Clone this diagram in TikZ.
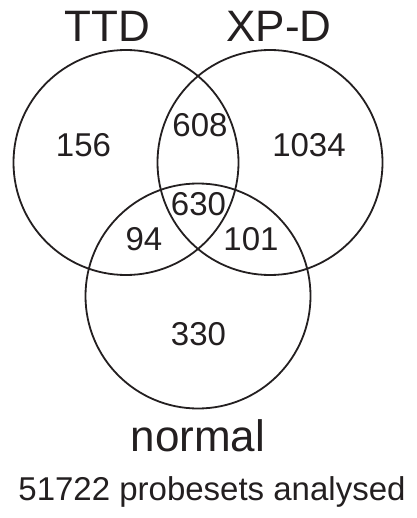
\documentclass[tikz,border=0pt]{standalone}
\usepackage{fontspec}
\setmainfont{Liberation Sans}
\definecolor{ink}{HTML}{231F20}
\begin{document}
\begin{tikzpicture}[x=1pt,y=-1pt,
  ring/.style={draw=ink,line width=1.8pt},
  title/.style={text=ink,font=\fontsize{44}{44}\selectfont,anchor=base,inner sep=0pt},
  count/.style={text=ink,font=\fontsize{33}{33}\selectfont,anchor=base,inner sep=0pt},
  foot/.style={text=ink,font=\fontsize{33}{33}\selectfont,anchor=base,inner sep=0pt}]
\useasboundingbox (0,0) rectangle (416,518);
\coordinate (cT) at (126,162.5);
\coordinate (cX) at (270,162.5);
\coordinate (cN) at (198,296);
\draw[ring] (cT) circle (112.5);
\draw[ring] (cX) circle (112.5);
\draw[ring] (cN) circle (112.5);
\node[title] (tTTD) at (107,41.7) {TTD};
\node[title] (tXPD) at (279,41.7) {XP-D};
\node[title] (tnormal) at (198,451.7) {normal};
\node[count] (n156) at (83.5,156.7) {156};
\node[count] (n608) at (200,136.7) {608};
\node[count] (n1034) at (309,156.7) {1034};
\node[count] (n630) at (198.5,215) {630};
\node[count] (n94) at (144,250) {94};
\node[count] (n101) at (251,250) {101};
\node[count] (n330) at (198.5,345) {330};
\node[foot] (tfoot) at (212,500) {51722 probesets analysed};
\end{tikzpicture}
\end{document}
